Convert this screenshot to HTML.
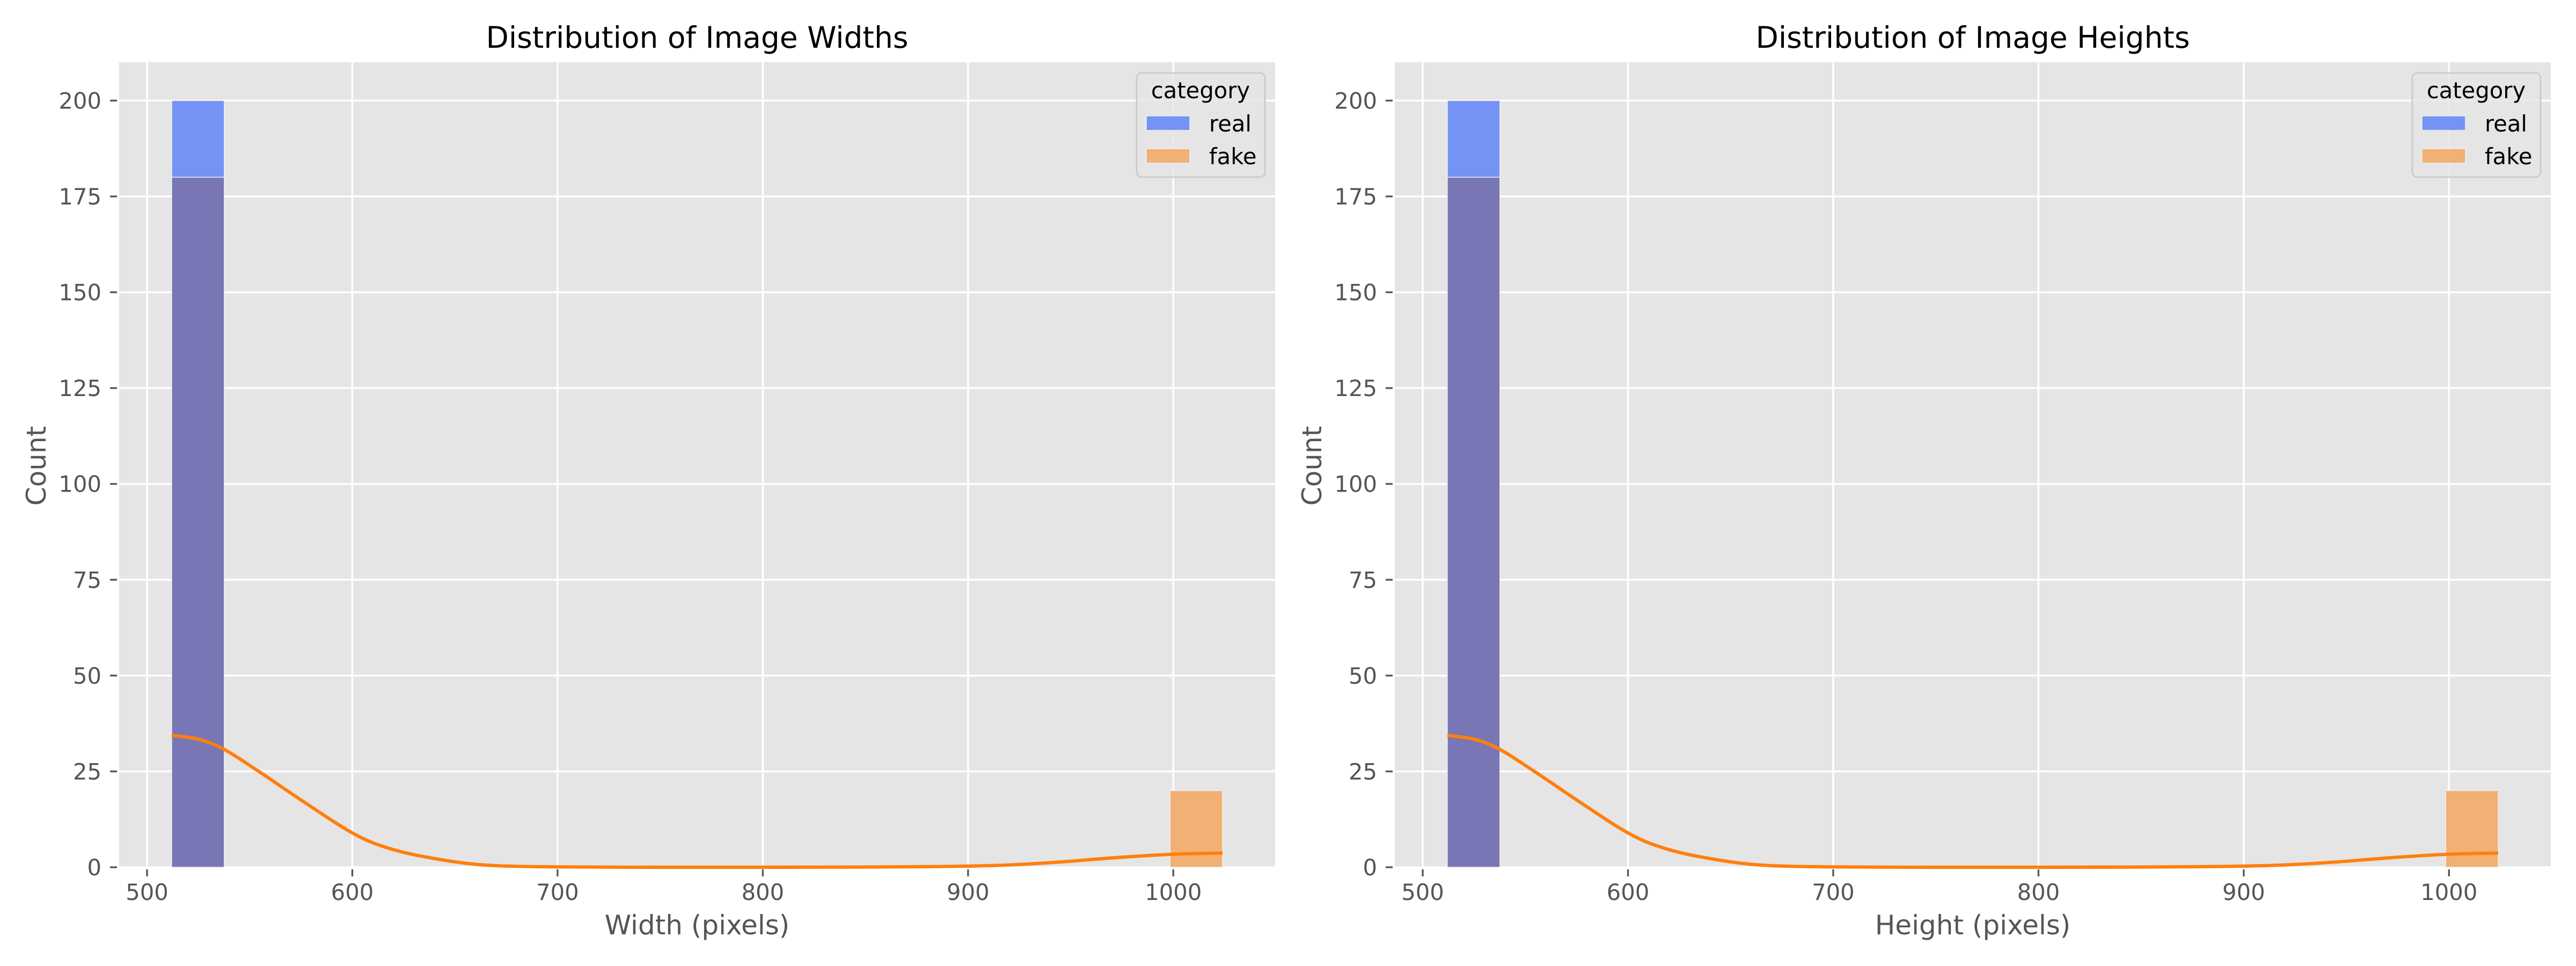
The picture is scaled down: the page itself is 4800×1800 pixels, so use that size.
<!DOCTYPE html>
<html><head><meta charset="utf-8">
<style>
html,body{margin:0;padding:0;background:#fff;}
svg{display:block;font-family:"DejaVu Sans","Liberation Sans",sans-serif;}
</style></head>
<body>
<svg id="fig" width="4800" height="1800" viewBox="0 0 4800 1800" xmlns="http://www.w3.org/2000/svg"></svg>
<script>
// ---- data ----
const binStart = 512;
const binWidth = 25.6;
const binCount = 20;
const realCounts = [200,0,0,0,0,0,0,0,0,0,0,0,0,0,0,0,0,0,0,0];
const fakeCounts = [180,0,0,0,0,0,0,0,0,0,0,0,0,0,0,0,0,0,0,20];
const kdeX = [512,525,537.4,555,577.4,600.5,617.5,637.5,664,700,750,800,850,880,900,920,943,972,1000,1024];
const kdeY = [34.4,33.4,30.8,24.8,16.7,8.8,5.0,2.5,0.6,0.1,0.0,0.0,0.05,0.15,0.3,0.6,1.3,2.5,3.4,3.7];
const xTicks = [500,600,700,800,900,1000];
const yTicks = [0,25,50,75,100,125,150,175,200];
const panelTitles = ["Distribution of Image Widths","Distribution of Image Heights"];
const xLabels = ["Width (pixels)","Height (pixels)"];
const legendLabels = ["real","fake"];

const NS = "http://www.w3.org/2000/svg";
const svg = document.getElementById('fig');
function mk(tag, attrs, parent){
  const e = document.createElementNS(NS, tag);
  for (const k in attrs) e.setAttribute(k, attrs[k]);
  (parent||svg).appendChild(e);
  return e;
}
const X0 = 486.4, X1 = 1049.6, Y0 = 0, Y1 = 210;
const AX_W = 2154, AX_TOP = 116, AX_BOT = 1616;
const REAL = "#7593F5", FAKE = "#F2B074", OVER = "#7876B5";

function splinePath(pts){
  let d = 'M' + pts[0][0].toFixed(1) + ',' + pts[0][1].toFixed(1);
  for (let i = 0; i < pts.length - 1; i++){
    const p0 = pts[Math.max(0, i-1)], p1 = pts[i], p2 = pts[i+1], p3 = pts[Math.min(pts.length-1, i+2)];
    const c1x = p1[0] + (p2[0]-p0[0])/6, c1y = p1[1] + (p2[1]-p0[1])/6;
    const c2x = p2[0] - (p3[0]-p1[0])/6, c2y = p2[1] - (p3[1]-p1[1])/6;
    d += 'C' + c1x.toFixed(1) + ',' + c1y.toFixed(1) + ' ' + c2x.toFixed(1) + ',' + c2y.toFixed(1) + ' ' + p2[0].toFixed(1) + ',' + p2[1].toFixed(1);
  }
  return d;
}

function drawPanel(p, left){
  const g = mk('g', {});
  
  
  const sx = v => left + (v - X0) / (X1 - X0) * AX_W;
  const sy = v => AX_BOT - (v - Y0) / (Y1 - Y0) * (AX_BOT - AX_TOP);
  const bg = mk('rect', {x:left, y:AX_TOP, width:AX_W, height:AX_BOT-AX_TOP, fill:'#E5E5E5'}, g);
  
  
  xTicks.forEach(t => {
    const l = mk('line', {x1:sx(t), x2:sx(t), y1:AX_TOP, y2:AX_BOT, stroke:'#fff', 'stroke-width':3.5}, g);
    
    
  });
  yTicks.forEach(t => {
    const l = mk('line', {x1:left, x2:left+AX_W, y1:sy(t), y2:sy(t), stroke:'#fff', 'stroke-width':3.5}, g);
    
    
  });
  for (let i = 0; i < binCount; i++){
    const x = sx(binStart + i*binWidth), w = sx(binStart + (i+1)*binWidth) - x;
    const r = realCounts[i], f = fakeCounts[i];
    const ov = Math.min(r, f);
    if (r > ov){
      const b = mk('rect', {x:x, y:sy(r), width:w, height:sy(ov)-sy(r), fill:REAL, stroke:'#f0f0f0', 'stroke-width':1.5}, g);
      
      
    }
    if (f > ov){
      const b = mk('rect', {x:x, y:sy(f), width:w, height:sy(ov)-sy(f), fill:FAKE, stroke:'#f5f0ea', 'stroke-width':1.5}, g);
      
      
    }
    if (ov > 0){
      const b = mk('rect', {x:x, y:sy(ov), width:w, height:sy(0)-sy(ov), fill:OVER, stroke:'#ececf0', 'stroke-width':1.5}, g);
      
      
    }
  }
  const pts = kdeX.map((v, i) => [sx(v), sy(kdeY[i])]);
  const kde = mk('path', {d:splinePath(pts), fill:'none', stroke:'#FF7F0E', 'stroke-width':6.2, 'stroke-linejoin':'round'}, g);
  
  
  xTicks.forEach(t => {
    const l = mk('line', {x1:sx(t), x2:sx(t), y1:AX_BOT+4, y2:AX_BOT+17, stroke:'#555', 'stroke-width':3.3}, g);
    
    
    const tx = mk('text', {x:sx(t), y:1677, 'text-anchor':'middle', 'font-size':41.7, fill:'#555'}, g);
    tx.textContent = t;
    
    
  });
  yTicks.forEach(t => {
    const l = mk('line', {x1:left-17, x2:left-4, y1:sy(t), y2:sy(t), stroke:'#555', 'stroke-width':3.3}, g);
    
    
    const tx = mk('text', {x:left-33, y:sy(t)+15, 'text-anchor':'end', 'font-size':41.7, fill:'#555'}, g);
    tx.textContent = t;
    
    
  });
  const tt = mk('text', {x:left+AX_W/2, y:89, 'text-anchor':'middle', 'font-size':55, fill:'#000'}, g);
  tt.textContent = panelTitles[p];
  
  
  const xl = mk('text', {x:left+AX_W/2, y:1741, 'text-anchor':'middle', 'font-size':50, fill:'#555'}, g);
  xl.textContent = xLabels[p];
  
  
  const yx = left - 137, yy = 868;
  const yl = mk('text', {x:yx, y:yy, 'text-anchor':'middle', 'font-size':50, fill:'#555', transform:'rotate(-90 '+yx+' '+yy+')'}, g);
  yl.textContent = 'Count';
  
  
  const lx = left + (2118 - 222);
  const lg = mk('g', {}, g);
  
  
  mk('rect', {x:lx, y:136, width:239, height:194, rx:9, fill:'#E5E5E5', 'fill-opacity':0.8, stroke:'#cccccc', 'stroke-width':3}, lg);
  const lt = mk('text', {x:lx+119, y:183, 'text-anchor':'middle', 'font-size':41.7, fill:'#000'}, lg);
  lt.textContent = 'category';
  
  
  [REAL, FAKE].forEach((c, i) => {
    const yTop = 216 + i*61;
    const e = mk('g', {}, lg);
    
    
    mk('rect', {x:lx+18, y:yTop, width:81, height:27, fill:c, stroke:'#f0f0f0', 'stroke-width':1.5}, e);
    const t = mk('text', {x:lx+135, y:yTop+29, 'font-size':41.7, fill:'#000'}, e);
    t.textContent = legendLabels[i];
  });
}
drawPanel(0, 222);
drawPanel(1, 2599);
</script>
</body></html>
